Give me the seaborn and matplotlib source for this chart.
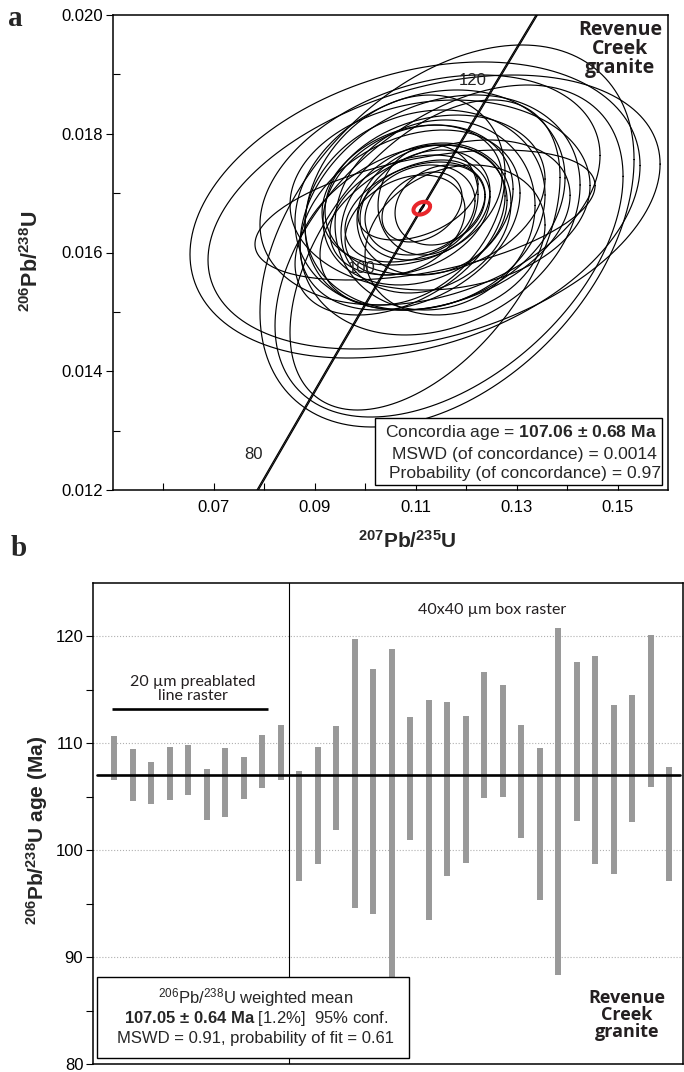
import numpy as np
import pandas as pd
import matplotlib
matplotlib.use("Agg")
import matplotlib.pyplot as plt
import seaborn as sns
from matplotlib.patches import Rectangle

# ---------------- data : panel a (concordia) ----------------
# ellipse centres, half-widths (x), half-heights (y) and error correlation
ell_x = [0.10986, 0.11620, 0.11363, 0.11660, 0.11184, 0.11283, 0.11184, 0.11482,
         0.10887, 0.11383, 0.11046, 0.11581, 0.10788, 0.11283, 0.10689, 0.11779,
         0.11184, 0.11482, 0.11125, 0.11085, 0.11184, 0.10986, 0.11244, 0.10887,
         0.11323, 0.11046, 0.11482, 0.10788, 0.11204, 0.10927, 0.11383]
ell_y = [0.016716, 0.016278, 0.016682, 0.016025, 0.015958, 0.016884, 0.016716, 0.016968,
         0.016547, 0.016632, 0.016800, 0.016463, 0.016884, 0.017053, 0.016379, 0.016211,
         0.016632, 0.016632, 0.016766, 0.016716, 0.016800, 0.016682, 0.016884, 0.016632,
         0.016716, 0.016884, 0.016800, 0.016463, 0.016581, 0.016968, 0.016968]
ell_hw = [0.04460, 0.03707, 0.04480, 0.03449, 0.02676, 0.02676, 0.02379, 0.02973,
          0.02180, 0.01982, 0.01883, 0.02478, 0.01982, 0.03370, 0.02081, 0.01784,
          0.03370, 0.02775, 0.00793, 0.01090, 0.01288, 0.01388, 0.00991, 0.01586,
          0.01487, 0.01189, 0.00892, 0.01189, 0.01685, 0.01784, 0.02180]
ell_hh = [0.002493, 0.003217, 0.002307, 0.002796, 0.002611, 0.001853, 0.001684, 0.001600,
          0.001516, 0.001600, 0.001347, 0.001432, 0.001768, 0.001937, 0.001432, 0.001263,
          0.001095, 0.002021, 0.000589, 0.000758, 0.000926, 0.000842, 0.000926, 0.001010,
          0.001095, 0.000674, 0.000674, 0.000842, 0.001263, 0.001179, 0.001347]
ell_rho = [0.30, 0.40, 0.35, 0.45, 0.50, 0.20, 0.15, 0.10,
           0.30, 0.10, 0.20, 0.35, 0.25, 0.30, 0.40, 0.20,
           0.45, 0.25, 0.30, 0.20, 0.25, 0.35, 0.10, 0.30,
           0.15, 0.40, 0.20, 0.30, 0.20, 0.25, 0.20]

conc_age = [76.9, 80, 90, 100, 110, 120, 127.7]
conc_x = [0.07868, 0.08198, 0.09268, 0.10350, 0.11442, 0.12545, 0.13398]
conc_y = [0.01200, 0.012487, 0.014059, 0.015633, 0.017210, 0.018789, 0.02000]
conc_labelled = [80, 100, 120]

best = dict(x=0.1112, y=0.016746, hw=0.00165, hh=0.000108, rho=0.3)

# ---------------- data : panel b (206Pb/238U ages) ----------------
spot_lo = [106.6, 104.6, 104.3, 104.7, 105.2, 102.8, 103.1, 104.8, 105.8, 106.6,
           97.1, 98.7, 101.9, 94.6, 94.0, 86.5, 101.0, 93.5, 97.6, 98.8,
           104.9, 105.0, 101.1, 95.3, 88.3, 102.7, 98.7, 97.8, 102.6, 105.9, 97.1]
spot_hi = [110.7, 109.5, 108.3, 109.7, 109.8, 107.6, 109.6, 108.7, 110.8, 111.7,
           107.4, 109.7, 111.6, 119.8, 117.0, 118.8, 112.5, 114.1, 113.9, 112.6,
           116.7, 115.5, 111.7, 109.6, 120.8, 117.6, 118.2, 113.6, 114.5, 120.1, 107.8]
mean_age = 107.05
n_line_raster = 10

# ---------------- style ----------------
sns.set_theme(style="ticks")
plt.rcParams["font.family"] = ["Liberation Sans", "DejaVu Sans"]
plt.rcParams["mathtext.fontset"] = "custom"
plt.rcParams["mathtext.rm"] = "Liberation Sans"
plt.rcParams["mathtext.it"] = "Liberation Sans:italic"
plt.rcParams["mathtext.bf"] = "Liberation Sans:bold"
plt.rcParams["axes.edgecolor"] = "black"
plt.rcParams["xtick.color"] = "black"
plt.rcParams["ytick.color"] = "black"


def ellipse_frame(cx, cy, hw, hh, rho, uid, n=181):
    t = np.linspace(0, 2 * np.pi, n)
    x = cx + hw * np.cos(t)
    y = cy + hh * (rho * np.cos(t) + np.sqrt(1 - rho ** 2) * np.sin(t))
    return pd.DataFrame({"x": x, "y": y, "spot": uid, "order": np.arange(n)})


W, H = 684, 1072
fig = plt.figure(figsize=(W / 100, H / 100), dpi=100)
ax1 = fig.add_axes([113 / W, (H - 490) / H, 555 / W, 475 / H])
ax2 = fig.add_axes([93 / W, (H - 1064) / H, 590 / W, 481 / H])

# ================= panel a =================
ell_df = pd.concat([ellipse_frame(*p, i) for i, p in
                    enumerate(zip(ell_x, ell_y, ell_hw, ell_hh, ell_rho))],
                   ignore_index=True)
sns.lineplot(data=ell_df, x="x", y="y", units="spot", estimator=None, sort=False,
             color="black", lw=0.85, ax=ax1)

cx = np.array(conc_x)
cy = np.array(conc_y)
for off in (-0.00013, 0.00013):
    sns.lineplot(x=cx + off, y=cy, color="black", lw=0.9, ax=ax1, sort=False)
for age, xx, yy in zip(conc_age, conc_x, conc_y):
    if age in conc_labelled:
        ax1.annotate(f"{age:g}", (xx, yy), xytext=(-15, 4.5), textcoords="offset points",
                     ha="center", va="center", fontsize=12, color="#222222")

best_df = ellipse_frame(best["x"], best["y"], best["hw"], best["hh"], best["rho"], 0)
sns.lineplot(data=best_df, x="x", y="y", estimator=None, sort=False,
             color="#e8262b", lw=2.9, ax=ax1)
inner_df = ellipse_frame(best["x"], best["y"], best["hw"] * 0.3, best["hh"] * 0.45, 0.9, 0)
sns.lineplot(data=inner_df, x="x", y="y", estimator=None, sort=False,
             color="black", lw=0.6, ax=ax1)

ax1.set_xlim(0.05, 0.16)
ax1.set_ylim(0.012, 0.020)
ax1.set_xticks([0.07, 0.09, 0.11, 0.13, 0.15])
ax1.set_xticklabels(["0.07", "0.09", "0.11", "0.13", "0.15"])
ax1.set_xticks([0.06, 0.08, 0.10, 0.12, 0.14], minor=True)
ax1.set_yticks([0.012, 0.014, 0.016, 0.018, 0.020])
ax1.set_yticklabels(["0.012", "0.014", "0.016", "0.018", "0.020"])
ax1.set_yticks([0.013, 0.015, 0.017, 0.019], minor=True)
ax1.tick_params(axis="x", which="both", direction="in", length=5, width=0.8,
                labelsize=12, pad=7)
ax1.tick_params(axis="y", which="major", direction="out", length=5, width=0.8,
                labelsize=12, pad=2)
ax1.tick_params(axis="y", which="minor", direction="in", length=5, width=0.8)
ax1.set_xlabel("")
ax1.set_ylabel("")
for s in ax1.spines.values():
    s.set_linewidth(1.1)
    s.set_visible(True)

ax1.text(0.53, -0.107, r"$^{\mathbf{207}}\mathbf{Pb/}^{\mathbf{235}}\mathbf{U}$",
         transform=ax1.transAxes, ha="center", va="center", fontsize=15)
ax1.text(-0.146, 0.482, r"$^{\mathbf{206}}\mathbf{Pb/}^{\mathbf{238}}\mathbf{U}$",
         transform=ax1.transAxes, ha="center", va="center", fontsize=15.5, rotation=90)

ax1.text(0.9135, 0.928, "Revenue\nCreek\ngranite", transform=ax1.transAxes,
         ha="center", va="center", fontsize=14, fontweight="bold",
         family=["Open Sans", "DejaVu Sans"], linespacing=0.95, color="#231f20")

ax1.add_patch(Rectangle((0.472, 0.0105), 0.517, 0.141, transform=ax1.transAxes,
                        facecolor="white", edgecolor="black", lw=1.0, zorder=5))
ax1.text(0.735, 0.120, r"Concordia age = $\mathbf{107.06\ ±\ 0.68\ Ma}$",
         transform=ax1.transAxes, ha="center", va="center", fontsize=12.6, zorder=6)
ax1.text(0.742, 0.0737, "MSWD (of concordance) = 0.0014",
         transform=ax1.transAxes, ha="center", va="center", fontsize=12.6, zorder=6)
ax1.text(0.742, 0.0337, "Probability (of concordance) = 0.97",
         transform=ax1.transAxes, ha="center", va="center", fontsize=12.6, zorder=6)

# ================= panel b =================
n = len(spot_lo)
idx = np.arange(1, n + 1)
bar_df = pd.DataFrame({"spot": np.repeat(idx, 2),
                       "age": np.column_stack([spot_lo, spot_hi]).ravel()})
sns.lineplot(data=bar_df, x="spot", y="age", units="spot", estimator=None, sort=False,
             color="#999999", lw=4.3, solid_capstyle="butt", ax=ax2, zorder=3)
ax2.axhline(mean_age, xmin=0.007, xmax=0.995, color="black", lw=1.9, zorder=4)
ax2.axvline(n_line_raster + 0.42, color="black", lw=0.8, zorder=2)

ax2.set_xlim(-0.146, 31.74)
ax2.set_ylim(80, 125)
ax2.set_xticks([])
ax2.set_yticks([80, 90, 100, 110, 120])
ax2.set_yticks([85, 95, 105, 115], minor=True)
ax2.tick_params(axis="y", which="both", direction="out", length=5, width=0.8,
                labelsize=12, pad=2)
ax2.grid(axis="y", which="major", linestyle=":", color="#b0b0b0", lw=0.8)
ax2.set_axisbelow(True)
ax2.set_xlabel("")
ax2.set_ylabel("")
for s in ax2.spines.values():
    s.set_linewidth(1.1)
    s.set_visible(True)

ax2.text(-0.095, 0.486, r"$^{\mathbf{206}}\mathbf{Pb/}^{\mathbf{238}}\mathbf{U\ age\ (Ma)}$",
         transform=ax2.transAxes, ha="center", va="center", fontsize=15, rotation=90)

ax2.plot([0.88, 9.31], [113.2, 113.2], color="black", lw=1.9, solid_capstyle="butt")
ax2.text(5.26, 115.1, "20 µm preablated\nline raster", ha="center", va="center",
         fontsize=11.5, family=["Lato", "DejaVu Sans"], linespacing=1.05, color="#231f20")
ax2.text(21.42, 122.5, "40x40 µm box raster", ha="center", va="center",
         fontsize=11.5, family=["Lato", "DejaVu Sans"], color="#231f20")

ax2.add_patch(Rectangle((0.0068, 0.0125), 0.5288, 0.1685, transform=ax2.transAxes,
                        facecolor="white", edgecolor="black", lw=1.0, zorder=6))
ax2.text(0.276, 0.139, r"$^{206}$Pb/$^{238}$U weighted mean",
         transform=ax2.transAxes, ha="center", va="center", fontsize=12, zorder=7)
ax2.text(0.276, 0.0945, r"$\mathbf{107.05\ ±\ 0.64\ Ma}$ [1.2%]  95% conf.",
         transform=ax2.transAxes, ha="center", va="center", fontsize=12, zorder=7)
ax2.text(0.276, 0.052, "MSWD = 0.91, probability of fit = 0.61",
         transform=ax2.transAxes, ha="center", va="center", fontsize=12, zorder=7)

ax2.text(0.905, 0.102, "Revenue\nCreek\ngranite", transform=ax2.transAxes,
         ha="center", va="center", fontsize=13, fontweight="bold",
         family=["Open Sans", "DejaVu Sans"], linespacing=0.95, color="#231f20", zorder=7)

# panel letters
fig.text(15 / W, 1 - 18 / H, "a", ha="center", va="center", fontsize=21,
         fontweight="bold", family=["Liberation Serif", "DejaVu Serif"])
fig.text(19 / W, 1 - 548 / H, "b", ha="center", va="center", fontsize=21,
         fontweight="bold", family=["Liberation Serif", "DejaVu Serif"])

fig.savefig("out.png", dpi=100)
